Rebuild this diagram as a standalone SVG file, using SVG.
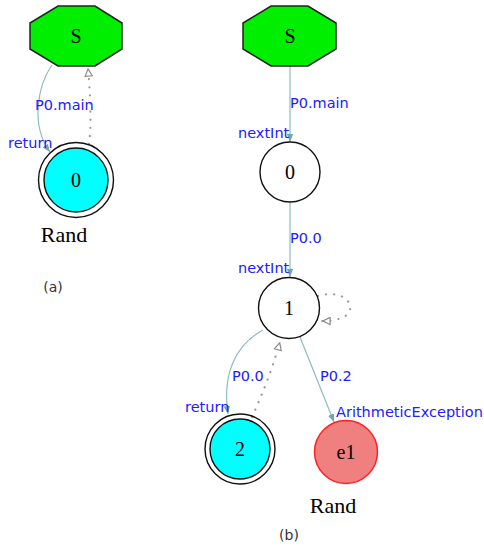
<svg xmlns="http://www.w3.org/2000/svg" width="484" height="547" viewBox="0 0 484 547">
<defs>
<style>
.oct{fill:#00ee00;stroke:#222;stroke-width:1.5}
.st{fill:#fff;stroke:#111;stroke-width:1.4}
.fin{fill:#00ffff;stroke:#111;stroke-width:1.4}
.ring{fill:none;stroke:#111;stroke-width:1.4}
.err{fill:#f08080;stroke:#ff2020;stroke-width:1.5}
.nl{font-family:"Liberation Serif",serif;font-size:20px;fill:#000;text-anchor:middle}
.cap{font-family:"Liberation Serif",serif;font-size:22px;fill:#000;text-anchor:middle}
.el{font-family:"DejaVu Sans",sans-serif;font-size:14.5px;fill:#2020ff}
.sub{font-family:"DejaVu Sans",sans-serif;font-size:14px;fill:#333;text-anchor:middle}
.e{fill:none;stroke:#8fbcbc;stroke-width:1.2}
.d{fill:none;stroke:#9a9a9a;stroke-width:2.2;stroke-dasharray:0.1,8;stroke-linecap:round}
</style>
<marker id="af" viewBox="0 0 10 10" refX="10" refY="5" markerWidth="8" markerHeight="8" markerUnits="userSpaceOnUse" orient="auto"><path d="M0,1 L10,5 L0,9 z" fill="#6fa8a8"/></marker>
<marker id="ao" viewBox="0 0 10 10" refX="10" refY="5" markerWidth="9" markerHeight="9" markerUnits="userSpaceOnUse" orient="auto"><path d="M1,1 L9,5 L1,9 z" fill="#fff" stroke="#888" stroke-width="1.3"/></marker>
</defs>
<g id="connectors">
<path class="e" d="M52,65 C38,85 30,125 50,152" marker-end="url(#af)"/>
<path class="d" d="M89,144 C92,120 90,92 88,68" marker-end="url(#ao)"/>
<path class="e" d="M290,65 L290,142" marker-end="url(#af)"/>
<path class="e" d="M290,202 L290,277" marker-end="url(#af)"/>
<path class="d" d="M318,296 C340,290 352,300 350,310 C348,318 335,321 322,321" marker-end="url(#ao)"/>
<path class="e" d="M263,330 C235,345 222,375 228,414" marker-end="url(#af)"/>
<path class="d" d="M252,417 C262,395 272,370 280,342" marker-end="url(#ao)"/>
<path class="e" d="M300,337 L334,422" marker-end="url(#af)"/>
<text class="el" x="35" y="110">P0.main</text>
<text class="el" x="8" y="148">return</text>
<text class="el" x="290" y="108">P0.main</text>
<text class="el" x="238" y="138">nextInt</text>
<text class="el" x="290" y="243">P0.0</text>
<text class="el" x="238" y="273">nextInt</text>
<text class="el" x="232" y="381">P0.0</text>
<text class="el" x="185" y="412">return</text>
<text class="el" x="320" y="381">P0.2</text>
<text class="el" x="336" y="417">ArithmeticException</text>
</g>
<g id="a-S"><polygon class="oct" points="58,6 95,6 122,23 122,49 95,66 58,66 30,49 30,23"/><text class="nl" x="76" y="43">S</text></g>
<g id="a-0"><circle class="fin" cx="76" cy="180" r="32"/><circle class="ring" cx="76" cy="180" r="37.5"/><text class="nl" x="76" y="187">0</text></g>
<text class="cap" x="64" y="242">Rand</text>
<text class="sub" x="53" y="292">(a)</text>
<g id="b-S"><polygon class="oct" points="271,6 308,6 336,23 336,49 308,66 271,66 243,49 243,23"/><text class="nl" x="290" y="43">S</text></g>
<g id="b-0"><circle class="st" cx="290" cy="172" r="30"/><text class="nl" x="290" y="179">0</text></g>
<g id="b-1"><circle class="st" cx="289" cy="308" r="30.5"/><text class="nl" x="289" y="315">1</text></g>
<g id="b-2"><circle class="fin" cx="240" cy="449" r="30"/><circle class="ring" cx="240" cy="449" r="35"/><text class="nl" x="240" y="456">2</text></g>
<g id="b-e1"><circle class="err" cx="346" cy="452" r="31.5"/><text class="nl" x="346" y="459">e1</text></g>
<text class="cap" x="333" y="513">Rand</text>
<text class="sub" x="289" y="540">(b)</text>
</svg>
